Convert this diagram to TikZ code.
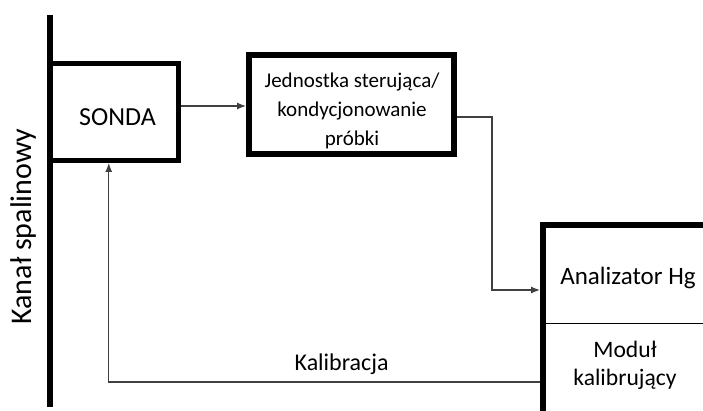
\documentclass[tikz,border=0pt]{standalone}
\usepackage{fontspec}
\setmainfont{Carlito}
\definecolor{linecolor}{rgb}{0.25,0.25,0.25}
\usetikzlibrary{arrows.meta,positioning}
\tikzset{
	block/.style={
		rectangle,
		draw=black,
		line width=3pt,
		fill=white
	},
	arrow/.style={
		draw=linecolor,
		line width=0.6pt,
		-{Latex[length=4.5pt,width=3.5pt]}
	},
	opis/.style={
		align=center,
		font=\fontsize{12.5}{14.2}\selectfont
	},
}

\begin{document}
\begin{tikzpicture}[x=0.5pt,y=-0.5pt]
	\path [use as bounding box,clip] (0,0) rectangle (703,411);
	\draw [line width=3pt] (50,15) -- (50,407);
	\node (kanal) [opis,rotate=90,anchor=base,font=\fontsize{15}{17}\selectfont] at (31.7,226.5) {Kanał spalinowy};
	
	\node (sonda) [block,line width=2.5pt,minimum width=64.25pt,minimum height=48.5pt] at (114.25,112) {};
	\node (jednostka) [block,minimum width=102.5pt,minimum height=49.5pt] at (351.5,104.5) {};
	\node (analizator) [block,minimum width=108.5pt,minimum height=112.5pt] at (651.5,337.5) {};
	\draw [thin] ([yshift=7.25pt]analizator.west) -- ([yshift=7.25pt]analizator.east);
	
	\node (sondaopis) [opis,anchor=base,font=\fontsize{13}{15}\selectfont] at (117.5,126) {SONDA};
	\node (jednostkaopis) [opis,font=\fontsize{10.5}{14.5}\selectfont] at (352,111) {Jednostka sterująca/\\kondycjonowanie\\próbki};
	\node (hg) [opis,anchor=base] at (628,284.3) {Analizator Hg};
	\node (modul) [opis,font=\fontsize{11.8}{14.2}\selectfont] at (625,365.5) {Moduł\\kalibrujący};
	
	\draw [arrow] ([yshift=-0.75pt]sonda.east |- jednostka.west) -- ([yshift=-0.75pt]jednostka.west);
	\draw [arrow] ([yshift=-6.25pt]jednostka.east) -| ([xshift=-24pt,yshift=23.75pt]analizator.west) -- ([yshift=23.75pt]analizator.west);
	\draw [arrow] ([yshift=-22.25pt]analizator.west) -| node [opis,above,pos=0.23,font=\fontsize{12}{14}\selectfont] {Kalibracja} ([xshift=-2.75pt]sonda.south);
	
\end{tikzpicture}
\end{document}
